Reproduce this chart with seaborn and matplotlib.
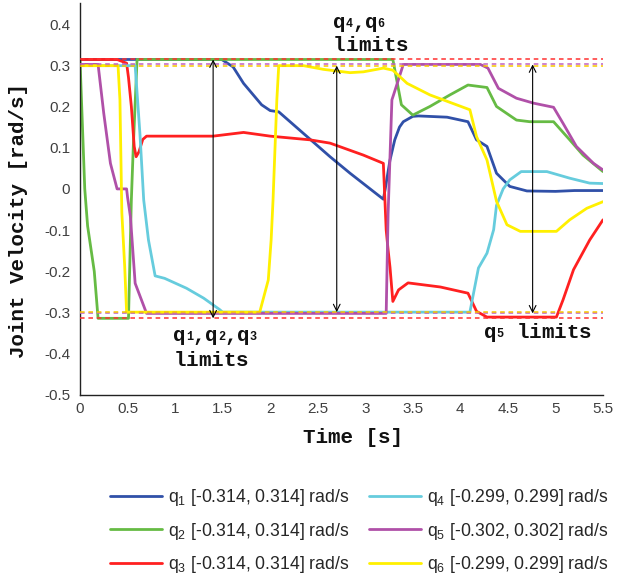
import numpy as np
import pandas as pd
import seaborn as sns
import matplotlib
matplotlib.use("Agg")
import matplotlib.pyplot as plt
from matplotlib.lines import Line2D
from matplotlib.ticker import FuncFormatter

# ---- data ----
t_q1 = [0, 1.49, 1.61, 1.72, 1.91, 2.0, 2.09, 2.63, 2.84, 3.19, 3.21, 3.26, 3.31, 3.36, 3.40, 3.50,
        3.56, 3.86, 4.08, 4.17, 4.28, 4.38, 4.52, 4.70, 5.0, 5.2, 5.5]
v_q1 = [0.314, 0.314, 0.296, 0.256, 0.204, 0.19, 0.187, 0.078, 0.038, -0.025, 0.0, 0.07, 0.119, 0.15, 0.163, 0.176,
        0.177, 0.174, 0.163, 0.119, 0.103, 0.038, 0.006, -0.005, -0.006, -0.004, -0.004]

t_q2 = [0, 0.01, 0.05, 0.08, 0.15, 0.19, 0.51, 0.54, 0.56, 0.60, 3.29, 3.38, 3.50, 3.68, 3.89, 4.08,
        4.28, 4.38, 4.59, 4.73, 4.98, 5.15, 5.29, 5.5]
v_q2 = [0.314, 0.25, 0.0, -0.09, -0.2, -0.314, -0.314, -0.027, 0.10, 0.314, 0.314, 0.204, 0.179, 0.2, 0.228, 0.252,
        0.246, 0.2, 0.167, 0.163, 0.163, 0.119, 0.082, 0.042]

t_q3 = [0, 0.39, 0.49, 0.51, 0.54, 0.57, 0.59, 0.62, 0.66, 0.70, 1.40, 1.72, 2.0, 2.42, 2.63, 2.98, 3.19,
        3.22, 3.24, 3.26, 3.29, 3.35, 3.45, 3.79, 4.08, 4.17, 4.28, 5.01, 5.08, 5.19, 5.36, 5.5]
v_q3 = [0.314, 0.314, 0.305, 0.27, 0.2, 0.103, 0.078, 0.09, 0.12, 0.128, 0.128, 0.137, 0.128, 0.119, 0.111, 0.082, 0.062,
        -0.1, -0.148, -0.19, -0.273, -0.245, -0.228, -0.238, -0.253, -0.297, -0.311, -0.311, -0.269, -0.196, -0.124, -0.075]

t_q4 = [0, 0.58, 0.63, 0.67, 0.72, 0.79, 0.89, 1.12, 1.30, 1.47, 1.50, 4.10, 4.19, 4.28, 4.35, 4.38,
        4.45, 4.52, 4.64, 4.91, 5.15, 5.36, 5.5]
v_q4 = [0.299, 0.299, 0.135, -0.027, -0.124, -0.211, -0.217, -0.241, -0.265, -0.293, -0.299, -0.299, -0.192, -0.156, -0.099, -0.04,
        0.0, 0.022, 0.042, 0.042, 0.026, 0.014, 0.013]

t_q5 = [0, 0.19, 0.25, 0.32, 0.39, 0.49, 0.50, 0.53, 0.58, 0.70, 3.22, 3.24, 3.28, 3.30, 3.40, 4.21,
        4.29, 4.40, 4.59, 4.77, 4.98, 5.08, 5.22, 5.40, 5.5]
v_q5 = [0.302, 0.302, 0.183, 0.062, 0.0, 0.0, -0.02, -0.067, -0.229, -0.302, -0.302, -0.06, 0.216, 0.23, 0.302, 0.302,
        0.293, 0.244, 0.22, 0.208, 0.198, 0.159, 0.103, 0.062, 0.046]

t_q6 = [0, 0.40, 0.42, 0.44, 0.47, 0.49, 1.89, 1.98, 2.01, 2.03, 2.07, 2.09, 2.35, 2.56, 2.84, 2.98,
        3.19, 3.29, 3.44, 3.68, 4.10, 4.17, 4.28, 4.38, 4.49, 4.63, 5.01, 5.15, 5.33, 5.5]
v_q6 = [0.299, 0.299, 0.216, -0.058, -0.188, -0.299, -0.299, -0.221, -0.124, -0.027, 0.216, 0.299, 0.299, 0.29, 0.282, 0.284,
        0.293, 0.288, 0.256, 0.228, 0.192, 0.127, 0.07, -0.03, -0.087, -0.103, -0.103, -0.075, -0.047, -0.031]

joint_names = ["q1", "q2", "q3", "q4", "q5", "q6"]
legend_labels = [r"q$_1$ [-0.314, 0.314] rad/s", r"q$_2$ [-0.314, 0.314] rad/s",
                 r"q$_3$ [-0.314, 0.314] rad/s", r"q$_4$ [-0.299, 0.299] rad/s",
                 r"q$_5$ [-0.302, 0.302] rad/s", r"q$_6$ [-0.299, 0.299] rad/s"]
limit_values = [0.314, 0.302, 0.299]
arrow_x = [1.4, 2.7, 4.76]
arrow_lim = [0.314, 0.299, 0.302]
x_ticks = np.arange(0, 5.51, 0.5)
y_ticks = np.arange(-0.5, 0.41, 0.1)

# ---- styling ----
sns.set_theme(style="white")
plt.rcParams["font.family"] = ["Liberation Sans", "DejaVu Sans"]
plt.rcParams["mathtext.default"] = "regular"

colors = ["#3050a8", "#66bb44", "#ff2020", "#66ccdd", "#b050a8", "#fff000"]
limit_colors = ["#ff3030", "#c060c0", "#f7c800"]

series = [(t_q1, v_q1), (t_q2, v_q2), (t_q3, v_q3), (t_q4, v_q4), (t_q5, v_q5), (t_q6, v_q6)]
frames = []
for name, (t, v) in zip(joint_names, series):
    frames.append(pd.DataFrame({"t": t, "v": v, "joint": name}))
df = pd.concat(frames, ignore_index=True)

fig = plt.figure(figsize=(6.27, 5.79), dpi=100)
ax = fig.add_axes([80 / 627, 1 - 395 / 579, 523 / 627, 392 / 579])

for name, col in zip(joint_names, colors):
    sns.lineplot(data=df[df["joint"] == name], x="t", y="v", color=col, lw=2.0,
                 estimator=None, sort=False, ax=ax, legend=False)

# limit dashed lines
for lim, lc in zip(limit_values, limit_colors):
    for s in (1, -1):
        ax.plot([0, 5.5], [s * lim, s * lim], ls=(0, (3, 2.5)), lw=1.1, color=lc, zorder=3)

# double-headed arrows
for xa, lim in zip(arrow_x, arrow_lim):
    ax.annotate("", xy=(xa, lim), xytext=(xa, -lim),
                arrowprops=dict(arrowstyle="<->", color="black", lw=0.8, shrinkA=0, shrinkB=0,
                                mutation_scale=12), zorder=4)

# monospace annotations with small digits
BIG, SMALL = 15, 8.5
mono_family = ["Liberation Mono", "DejaVu Sans Mono"]


def mono_text(x, y, pieces):
    off = 0.0
    for s, small in pieces:
        fs = SMALL if small else BIG
        for ch in s:
            ax.annotate(ch, xy=(x, y), xytext=(off, 1.0 if small else 0.0), textcoords="offset points",
                        ha="left", va="baseline", fontsize=fs, family=mono_family,
                        fontweight="bold", color="#111111", zorder=5)
            off += 0.6 * fs


mono_text(2.66, 0.3895, [("q", False), ("4", True), (",q", False), ("6", True)])
mono_text(2.66, 0.335, [("limits", False)])
mono_text(0.98, -0.370, [("q", False), ("1", True), (",q", False), ("2", True), (",q", False), ("3", True)])
mono_text(0.98, -0.429, [("limits", False)])
mono_text(4.25, -0.362, [("q", False), ("5", True), (" limits", False)])

ax.set_xlim(0, 5.5)
ax.set_ylim(-0.5, 0.451)
ax.set_xticks(x_ticks)
ax.set_yticks(y_ticks)
fmt = FuncFormatter(lambda v, p: ("%g" % round(v, 3)) if abs(v) > 1e-9 else "0")
ax.xaxis.set_major_formatter(fmt)
ax.yaxis.set_major_formatter(fmt)
ax.tick_params(direction="in", length=5, width=1, color="#222222", labelsize=11, labelcolor="#404040")
ax.tick_params(axis="x", pad=5)
ax.tick_params(axis="y", pad=7)
for sp in ["top", "right"]:
    ax.spines[sp].set_visible(False)
for sp in ["left", "bottom"]:
    ax.spines[sp].set_color("#222222")
    ax.spines[sp].set_linewidth(1.0)

lab = dict(family=mono_family, fontweight="bold", fontsize=15, color="#111111")
ax.set_xlabel("Time [s]", **lab)
ax.set_ylabel("Joint Velocity [rad/s]", **lab)
ax.xaxis.set_label_coords(0.522, -0.085)
ax.yaxis.set_label_coords(-0.10, 0.446)

handles = [Line2D([0], [0], color=c, lw=2.0) for c in colors]
fig.legend(handles, legend_labels, loc="upper left", bbox_to_anchor=(94 / 627, 1 - 471 / 579),
           ncol=2, frameon=False, fontsize=12.7, handlelength=2.95, handletextpad=0.34,
           columnspacing=1.14, labelspacing=0.72)

fig.savefig("out.png", dpi=100)
